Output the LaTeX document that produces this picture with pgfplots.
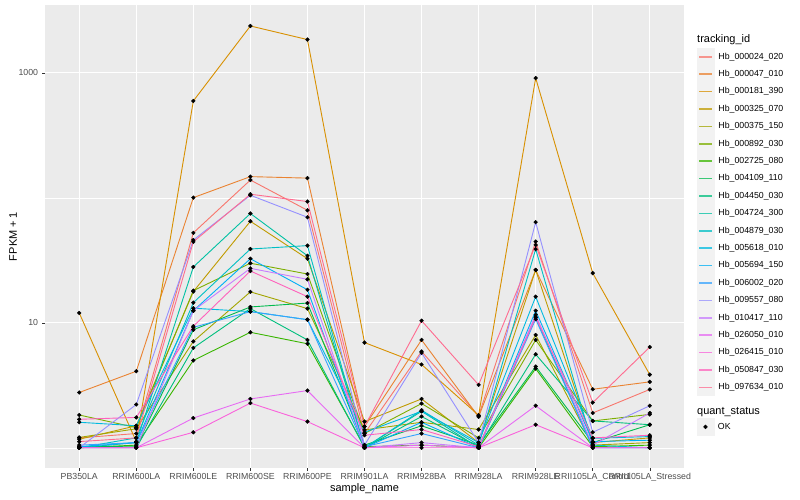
\documentclass[border=0pt]{standalone}
\usepackage{fontspec}
\setmainfont{Liberation Sans}
\usepackage{pgfplots}
\usepackage{pgfplotstable}
\pgfplotsset{compat=1.18}

% ggplot hue palette, 20 levels
\definecolor{c1}{HTML}{F8766D}
\definecolor{c2}{HTML}{EA8331}
\definecolor{c3}{HTML}{D89000}
\definecolor{c4}{HTML}{C09B00}
\definecolor{c5}{HTML}{A3A500}
\definecolor{c6}{HTML}{7CAE00}
\definecolor{c7}{HTML}{39B600}
\definecolor{c8}{HTML}{00BB4E}
\definecolor{c9}{HTML}{00BF7D}
\definecolor{c10}{HTML}{00C1A3}
\definecolor{c11}{HTML}{00BFC4}
\definecolor{c12}{HTML}{00BAE0}
\definecolor{c13}{HTML}{00B0F6}
\definecolor{c14}{HTML}{35A2FF}
\definecolor{c15}{HTML}{9590FF}
\definecolor{c16}{HTML}{C77CFF}
\definecolor{c17}{HTML}{E76BF3}
\definecolor{c18}{HTML}{FA62DB}
\definecolor{c19}{HTML}{FF62BC}
\definecolor{c20}{HTML}{FF6C90}
\definecolor{panelbg}{HTML}{EBEBEB}
\definecolor{keybg}{HTML}{F2F2F2}
\definecolor{ticklab}{HTML}{4D4D4D}
\definecolor{tickcol}{HTML}{333333}

% FPKM + 1, one row per sample, one column per tracking id
\pgfplotstableread{
x s1 s2 s3 s4 s5 s6 s7 s8 s9 s10 s11 s12 s13 s14 s15 s16 s17 s18 s19 s20
0 1.20 2.77 12.0 1.17 1.21 1.83 1.00 1.02 1.00 1.00 1.00 1.60 1.02 1.05 1.00 1.00 1.00 1.00 1.69 1.12
1 1.30 4.10 1.12 1.50 1.42 1.45 1.05 1.03 1.00 1.10 1.20 1.50 1.10 1.10 2.22 1.00 1.00 1.00 1.75 1.20
2 52.5 100.5 597 17.8 7.1 18.1 5.0 8.8 6.3 28 14.5 13.1 12.5 9.2 46 12.5 1.73 1.33 9.4 44.5
3 139 148 2377 65 17.7 30 8.4 13.4 13.0 75 39 12.3 32.6 12.3 105 27.3 2.46 2.28 26 107
4 79.6 144 1850 32.6 13.0 24.6 6.8 14.4 7.3 34.4 41.5 10.6 18.4 10.6 70 22.3 2.87 1.62 16.2 93.5
5 1.30 1.48 6.95 1.62 1.39 1.30 1.02 1.05 1.00 1.00 1.00 1.33 1.00 1.02 1.05 1.00 1.00 1.00 1.26 1.48
6 5.9 7.3 4.64 2.46 1.60 2.26 1.05 1.50 1.78 1.96 2.00 1.96 1.60 1.30 5.75 1.10 1.05 1.00 1.40 10.4
7 1.80 1.77 1.82 1.10 1.40 1.20 1.00 1.05 1.02 1.00 1.05 1.10 1.00 1.00 1.10 1.00 1.00 1.00 1.02 3.19
8 44.7 26.5 910 26.5 8.0 7.3 4.3 4.47 5.6 11.1 38.9 16.2 12.5 10.7 64 11.6 2.17 1.53 11.1 42
9 1.90 2.94 25.0 1.10 1.05 1.64 1.02 1.10 1.64 1.00 1.05 1.19 1.12 1.00 1.33 1.05 1.00 1.00 1.20 2.30
10 2.93 3.37 3.85 1.20 1.10 1.85 1.05 1.53 1.53 1.00 1.00 1.23 1.15 1.00 2.17 1.90 1.00 1.00 1.26 6.4
}\fpkm

\begin{document}
\begin{tikzpicture}[x=1bp,y=1bp]
\path[use as bounding box] (0,0) rectangle (800,500);

\begin{axis}[
  at={(45bp,32bp)}, anchor=south west,
  scale only axis, width=639bp, height=463bp,
  xmin=-0.6, xmax=10.6,
  ymode=log, ymin=0.689, ymax=3500,
  axis background/.style={fill=panelbg},
  axis line style={draw=none},
  xtick={0,...,10},
  xticklabels={PB350LA,RRIM600LA,RRIM600LE,RRIM600SE,RRIM600PE,RRIM901LA,RRIM928BA,RRIM928LA,RRIM928LE,RRII105LA\_Control,RRII105LA\_Stressed},
  ytick={10,1000},
  yticklabels={10,1000},
  minor ytick={1,100},
  grid=both,
  major grid style={white, line width=1.07bp},
  minor grid style={white, line width=0.53bp},
  tick align=outside,
  major tick length=2.75bp,
  minor tick length=0pt,
  tick style={tickcol, line width=0.5bp},
  xtick pos=bottom, ytick pos=left,
  ticklabel style={font=\fontsize{8.8}{10}\selectfont, text=ticklab, inner sep=0pt},
  xticklabel style={anchor=north, yshift=-2.5bp},
  yticklabel style={anchor=east, xshift=-4bp},
  xlabel={sample\_name},
  ylabel={FPKM + 1},
  label style={font=\fontsize{11}{13}\selectfont},
  xlabel style={at={(axis description cs:0.5,0)}, anchor=center, yshift=-21bp},
  ylabel style={at={(axis description cs:0,0.5)}, anchor=center, yshift=32bp},
  legend style={at={(axis description cs:1.0203,0.9071)}, anchor=north west,
    draw=none, fill=none, inner sep=0pt, outer sep=0pt,
    row sep=-0.1bp, column sep=4bp,
    nodes={inner sep=0pt, font=\fontsize{8.8}{10}\selectfont}},
  legend cell align=left,
  legend image code/.code={
    \fill[keybg] (0bp,-8.3bp) rectangle (16.6bp,8.3bp);
    \draw[#1, line width=1.6bp, opacity=0.75] (1.7bp,0bp) -- (14.9bp,0bp);
  },
]

% lines
\pgfplotsinvokeforeach{1,...,20}{
  \addplot[c#1, line width=0.9bp, mark=none] table[x=x, y=s#1] {\fpkm};
}
% points on top of all lines
\pgfplotsinvokeforeach{1,...,20}{
  \addplot[only marks, mark=*, mark size=1.9bp, black, forget plot] table[x=x, y=s#1] {\fpkm};
}

\legend{Hb\_000024\_020,Hb\_000047\_010,Hb\_000181\_390,Hb\_000325\_070,Hb\_000375\_150,
  Hb\_000892\_030,Hb\_002725\_080,Hb\_004109\_110,Hb\_004450\_030,Hb\_004724\_300,
  Hb\_004879\_030,Hb\_005618\_010,Hb\_005694\_150,Hb\_006002\_020,Hb\_009557\_080,
  Hb\_010417\_110,Hb\_026050\_010,Hb\_026415\_010,Hb\_050847\_030,Hb\_097634\_010}
\end{axis}

% second legend: quant_status
\begin{axis}[
  at={(45bp,32bp)}, anchor=south west,
  scale only axis, width=639bp, height=463bp,
  hide axis, xmin=0, xmax=1, ymin=0, ymax=1,
  legend style={at={(axis description cs:1.0203,0.1071)}, anchor=north west,
    draw=none, fill=none, inner sep=0pt, outer sep=0pt, column sep=4bp,
    nodes={inner sep=0pt, font=\fontsize{8.8}{10}\selectfont}},
  legend cell align=left,
]
\addlegendimage{legend image code/.code={
    \fill[keybg] (0bp,-8.3bp) rectangle (16.6bp,8.3bp);
    \fill[black] (8.3bp,0bp) circle (1.9bp);
  }}
\addlegendentry{OK}
\end{axis}

\node[anchor=west, inner sep=0pt, font=\fontsize{11}{13}\selectfont] at (697bp,460bp) {tracking\_id};
\node[anchor=west, inner sep=0pt, font=\fontsize{11}{13}\selectfont] at (697bp,88bp) {quant\_status};
\end{tikzpicture}
\end{document}
